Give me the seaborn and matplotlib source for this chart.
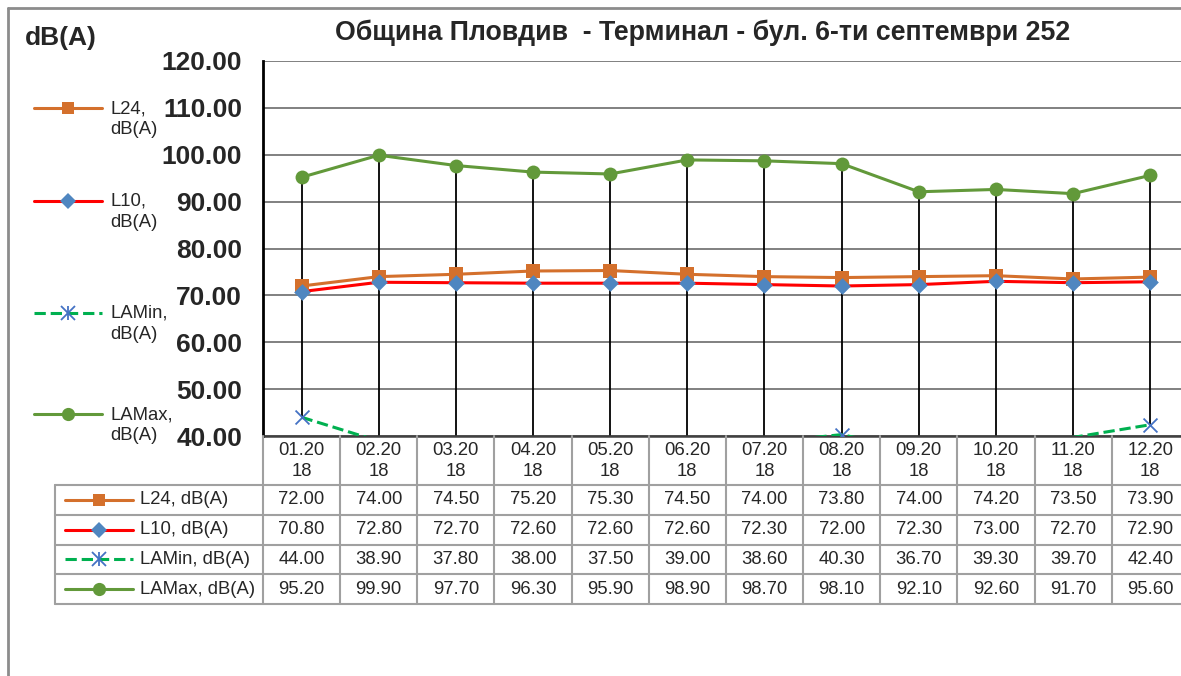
import numpy as np
import pandas as pd
import matplotlib
matplotlib.use("Agg")
import matplotlib.pyplot as plt
from matplotlib.lines import Line2D
import seaborn as sns

months = ["01.20\n18", "02.20\n18", "03.20\n18", "04.20\n18", "05.20\n18", "06.20\n18",
          "07.20\n18", "08.20\n18", "09.20\n18", "10.20\n18", "11.20\n18", "12.20\n18"]
l24 = [72.00, 74.00, 74.50, 75.20, 75.30, 74.50, 74.00, 73.80, 74.00, 74.20, 73.50, 73.90]
l10 = [70.80, 72.80, 72.70, 72.60, 72.60, 72.60, 72.30, 72.00, 72.30, 73.00, 72.70, 72.90]
lamin = [44.00, 38.90, 37.80, 38.00, 37.50, 39.00, 38.60, 40.30, 36.70, 39.30, 39.70, 42.40]
lamax = [95.20, 99.90, 97.70, 96.30, 95.90, 98.90, 98.70, 98.10, 92.10, 92.60, 91.70, 95.60]
series_names = ["L24, dB(A)", "L10, dB(A)", "LAMin, dB(A)", "LAMax, dB(A)"]
title = "Община Пловдив  - Терминал - бул. 6-ти септември 252"

sns.set_style("white")
plt.rcParams['font.family'] = ['Liberation Sans', 'DejaVu Sans']

W, H = 1181, 676
fig = plt.figure(figsize=(W / 100, H / 100), dpi=100)

def fx(x):
    return x / W

def fy(y):
    return 1 - y / H

# style per series: line colour, line style, marker, marker colour, marker size
styles = {
    "L24, dB(A)": dict(color="#D4702C", ls="-", marker="s", mfc="#D4702C", ms=9.5),
    "L10, dB(A)": dict(color="#FF0000", ls="-", marker="D", mfc="#4F86C0", ms=8.5),
    "LAMin, dB(A)": dict(color="#00B050", ls="--", marker="x", mfc="#4472C4", ms=10),
    "LAMax, dB(A)": dict(color="#62993A", ls="-", marker="o", mfc="#62993A", ms=10),
}

x = np.arange(len(months))
df = pd.DataFrame({"x": np.tile(x, 4),
                   "value": l24 + l10 + lamin + lamax,
                   "series": np.repeat(series_names, len(months))})

left, right, top, bottom = 263, 263 + 12 * 77.15, 61, 436
ax = fig.add_axes([fx(left), fy(bottom), fx(right - left), (bottom - top) / H])

# high-low lines
ax.vlines(x, lamin, lamax, color="black", lw=1.3, zorder=2)

for name in series_names:
    st = styles[name]
    sub = df[df["series"] == name]
    sns.lineplot(data=sub, x="x", y="value", ax=ax, color=st["color"], lw=2.2,
                 linestyle=st["ls"], zorder=3)
    # markers outside the value axis range are not drawn
    vis = sub[sub["value"] >= 40]
    sns.scatterplot(data=vis, x="x", y="value", ax=ax, marker=st["marker"],
                    s=st["ms"] ** 2, color=st["mfc"], edgecolor=st["mfc"],
                    linewidth=1.3 if st["marker"] == "x" else 0, zorder=4)

ax.set_xlim(-0.5, 11.5)
ax.set_ylim(40, 120)
ax.set_yticks(np.arange(40, 121, 10))
ax.set_yticklabels([f"{v:.2f}" for v in np.arange(40, 121, 10)], fontsize=19, fontweight="bold")
ax.tick_params(axis="y", length=0, pad=15)
ax.set_xticks([])
ax.set_xlabel("")
ax.set_ylabel("")
ax.grid(axis="y", color="#808080", lw=1.4)
ax.grid(axis="x", visible=False)
for s in ["top", "right"]:
    ax.spines[s].set_visible(False)
ax.spines["left"].set_color("black")
ax.spines["left"].set_linewidth(2)
ax.spines["bottom"].set_color("#404040")
ax.spines["bottom"].set_linewidth(1.8)

# title and unit
fig.text(fx(703), fy(33), title, ha="center", va="center", fontsize=19.3, fontweight="bold")
fig.text(fx(61), fy(38), "dB(A)", ha="center", va="center", fontsize=19, fontweight="bold")

# outer chart border
border = "#8C8C8C"
fig.add_artist(Line2D([fx(8), fx(8)], [fy(8), fy(H)], color=border, lw=2))
fig.add_artist(Line2D([fx(8), fx(W)], [fy(8), fy(8)], color=border, lw=2))

def handle(x0, x1, y, name):
    st = styles[name]
    fig.add_artist(Line2D([fx(x0), fx(x1)], [fy(y), fy(y)], color=st["color"], lw=2.2,
                          ls=st["ls"]))
    xm, ym = [fx((x0 + x1) / 2)], [fy(y)]
    fig.add_artist(Line2D(xm, ym, marker=st["marker"], ms=st["ms"] * 0.95,
                          mfc=st["mfc"], mec=st["mfc"],
                          mew=1.3 if st["marker"] == "x" else 0, ls="none"))
    if st["marker"] == "x":
        fig.add_artist(Line2D(xm, ym, marker="|", ms=st["ms"] * 0.95, mec=st["mfc"],
                              mew=1.3, ls="none"))

# left legend
leg_y = [108, 201, 313, 414]
for name, y in zip(series_names, leg_y):
    handle(34, 102, y, name)
    fig.text(fx(110), fy(y - 8), name.replace(" ", "\n"), ha="left", va="top",
             fontsize=13.3, linespacing=1.28)

# data table
grid_c = "#A0A0A0"
col_w = 77.15
row_edges = [485, 514.5, 544.5, 574, 604]
for k in range(13):
    xk = left + k * col_w
    fig.add_artist(Line2D([fx(xk), fx(xk)], [fy(bottom), fy(row_edges[-1])], color=grid_c, lw=1.5))
fig.add_artist(Line2D([fx(55), fx(55)], [fy(row_edges[0]), fy(row_edges[-1])], color=grid_c, lw=1.5))
for ye in row_edges:
    fig.add_artist(Line2D([fx(55), fx(W)], [fy(ye), fy(ye)], color=grid_c, lw=1.5))

for i, lab in enumerate(months):
    fig.text(fx(left + (i + 0.5) * col_w), fy(461), lab, ha="center", va="center",
             fontsize=13.3, linespacing=1.35)

table_vals = [l24, l10, lamin, lamax]
for r, (name, vals) in enumerate(zip(series_names, table_vals)):
    yc = (row_edges[r] + row_edges[r + 1]) / 2
    handle(65, 133, yc, name)
    fig.text(fx(140), fy(yc), name, ha="left", va="center", fontsize=13.3)
    for i, v in enumerate(vals):
        fig.text(fx(left + (i + 0.5) * col_w), fy(yc), f"{v:.2f}", ha="center", va="center",
                 fontsize=13.3)

fig.savefig("out.png", dpi=100)
